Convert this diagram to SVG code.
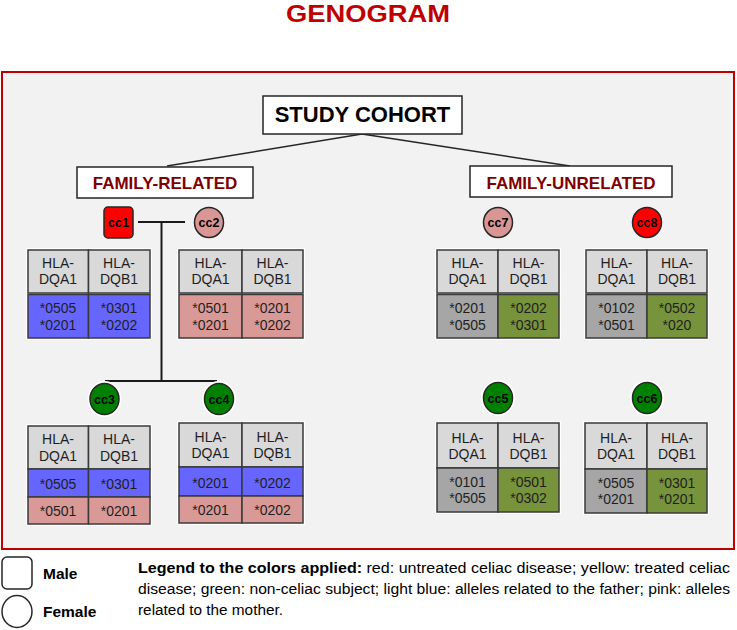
<svg xmlns="http://www.w3.org/2000/svg" width="737" height="630" viewBox="0 0 737 630">
<style>
.frame{fill:#f2f2f2;stroke:#c00000;stroke-width:2}
.box{fill:#ffffff;stroke:#262626;stroke-width:1.5}
.halo{fill:#ffffff}
.cell{stroke:#3a3a3a;stroke-width:1.5}
.hdr{fill:#d9d9d9}
.blue{fill:#6666ff}
.pink{fill:#d99a97}
.grey{fill:#a6a6a6}
.green{fill:#77933c}
.line{stroke:#1a1a1a;stroke-width:2;fill:none}
.thin{stroke:#262626;stroke-width:1.5;fill:none}
.t{font-family:"Liberation Sans",Arial,sans-serif;font-size:14px;fill:#1f1f1f;text-anchor:middle}
.cc{font-family:"Liberation Sans",Arial,sans-serif;font-size:12.5px;font-weight:bold;fill:#000;text-anchor:middle}
.sym{stroke:#262626;stroke-width:1.5}
.red{fill:#ff0000}
.pinkc{fill:#d99694}
.greenc{fill:#008000}
.head{font-family:"Liberation Sans",Arial,sans-serif;font-weight:bold;text-anchor:middle}
.leg{font-family:"Liberation Sans",Arial,sans-serif;font-size:15.5px;fill:#000}
</style>

<text class="head" x="368" y="22" font-size="24" fill="#c00000" textLength="164" lengthAdjust="spacingAndGlyphs">GENOGRAM</text>

<rect class="frame" x="2" y="72" width="732" height="477"/>

<g id="connectors">
  <line class="thin" x1="362" y1="134" x2="167" y2="166"/>
  <line class="thin" x1="362" y1="134" x2="570" y2="166"/>
  <line class="line" x1="138" y1="222" x2="185" y2="222"/>
  <line class="line" x1="161.5" y1="222" x2="161.5" y2="381"/>
  <line class="line" x1="105" y1="381" x2="217" y2="381"/>
</g>

<g id="study-cohort">
  <rect class="box" x="263" y="96" width="199" height="38"/>
  <text class="head" x="362.5" y="122" font-size="22" fill="#000">STUDY COHORT</text>
</g>
<g id="family-related">
  <rect class="box" x="77" y="167" width="176" height="31"/>
  <text class="head" x="165" y="189" font-size="17" fill="#7f0000">FAMILY-RELATED</text>
</g>
<g id="family-unrelated">
  <rect class="box" x="470" y="166" width="202" height="31"/>
  <text class="head" x="571" y="189" font-size="17" fill="#7f0000">FAMILY-UNRELATED</text>
</g>

<g id="cc1">
  <rect class="sym red" x="104" y="207" width="29" height="31" rx="4"/>
  <text class="cc" x="118.5" y="227">cc1</text>
  <rect class="halo" x="26" y="248" width="126" height="92"/>
  <rect class="cell hdr" x="28" y="250" width="60.5" height="43"/>
  <rect class="cell hdr" x="88.5" y="250" width="61.5" height="43"/>
  <rect class="cell blue" x="28" y="294.5" width="60.5" height="43.5"/>
  <rect class="cell blue" x="88.5" y="294.5" width="61.5" height="43.5"/>
  <text class="t" x="58" y="268">HLA-</text><text class="t" x="58" y="284">DQA1</text>
  <text class="t" x="119" y="268">HLA-</text><text class="t" x="119" y="284">DQB1</text>
  <text class="t" x="58" y="313">*0505</text><text class="t" x="58" y="330">*0201</text>
  <text class="t" x="119" y="313">*0301</text><text class="t" x="119" y="330">*0202</text>
</g>

<g id="cc2">
  <ellipse class="sym pinkc" cx="209" cy="222.5" rx="14.5" ry="15"/>
  <text class="cc" x="209" y="227">cc2</text>
  <rect class="halo" x="177" y="248" width="128" height="92"/>
  <rect class="cell hdr" x="179" y="250" width="63" height="43"/>
  <rect class="cell hdr" x="242" y="250" width="61" height="43"/>
  <rect class="cell pink" x="179" y="294.5" width="63" height="43.5"/>
  <rect class="cell pink" x="242" y="294.5" width="61" height="43.5"/>
  <text class="t" x="210.5" y="268">HLA-</text><text class="t" x="210.5" y="284">DQA1</text>
  <text class="t" x="272.5" y="268">HLA-</text><text class="t" x="272.5" y="284">DQB1</text>
  <text class="t" x="210.5" y="313">*0501</text><text class="t" x="210.5" y="330">*0201</text>
  <text class="t" x="272.5" y="313">*0201</text><text class="t" x="272.5" y="330">*0202</text>
</g>

<g id="cc7">
  <ellipse class="sym pinkc" cx="498" cy="222.5" rx="14.5" ry="15"/>
  <text class="cc" x="498" y="227">cc7</text>
  <rect class="halo" x="435" y="248" width="126" height="92"/>
  <rect class="cell hdr" x="437" y="250" width="61" height="43"/>
  <rect class="cell hdr" x="498" y="250" width="61" height="43"/>
  <rect class="cell grey" x="437" y="294.5" width="61" height="43.5"/>
  <rect class="cell green" x="498" y="294.5" width="61" height="43.5"/>
  <text class="t" x="467.5" y="268">HLA-</text><text class="t" x="467.5" y="284">DQA1</text>
  <text class="t" x="528.5" y="268">HLA-</text><text class="t" x="528.5" y="284">DQB1</text>
  <text class="t" x="467.5" y="313">*0201</text><text class="t" x="467.5" y="330">*0505</text>
  <text class="t" x="528.5" y="313">*0202</text><text class="t" x="528.5" y="330">*0301</text>
</g>

<g id="cc8">
  <ellipse class="sym red" cx="647" cy="222.5" rx="14.5" ry="15"/>
  <text class="cc" x="647" y="227">cc8</text>
  <rect class="halo" x="584" y="248" width="125" height="92"/>
  <rect class="cell hdr" x="586" y="250" width="61" height="43"/>
  <rect class="cell hdr" x="647" y="250" width="60" height="43"/>
  <rect class="cell grey" x="586" y="294.5" width="61" height="43.5"/>
  <rect class="cell green" x="647" y="294.5" width="60" height="43.5"/>
  <text class="t" x="616.5" y="268">HLA-</text><text class="t" x="616.5" y="284">DQA1</text>
  <text class="t" x="677" y="268">HLA-</text><text class="t" x="677" y="284">DQB1</text>
  <text class="t" x="616.5" y="313">*0102</text><text class="t" x="616.5" y="330">*0501</text>
  <text class="t" x="677" y="313">*0502</text><text class="t" x="677" y="330">*020</text>
</g>

<g id="cc3">
  <ellipse class="halo" cx="104.5" cy="399" rx="17" ry="18"/>
  <ellipse class="sym greenc" cx="104.5" cy="399" rx="14.5" ry="15.5"/>
  <text class="cc" x="104.5" y="403.5">cc3</text>
  <rect class="halo" x="26" y="424" width="126" height="102"/>
  <rect class="cell hdr" x="28" y="426" width="60.5" height="43"/>
  <rect class="cell hdr" x="88.5" y="426" width="61.5" height="43"/>
  <rect class="cell blue" x="28" y="469" width="60.5" height="28"/>
  <rect class="cell blue" x="88.5" y="469" width="61.5" height="28"/>
  <rect class="cell pink" x="28" y="497" width="60.5" height="27"/>
  <rect class="cell pink" x="88.5" y="497" width="61.5" height="27"/>
  <text class="t" x="58" y="444">HLA-</text><text class="t" x="58" y="461">DQA1</text>
  <text class="t" x="119" y="444">HLA-</text><text class="t" x="119" y="461">DQB1</text>
  <text class="t" x="58" y="489">*0505</text><text class="t" x="119" y="489">*0301</text>
  <text class="t" x="58" y="516">*0501</text><text class="t" x="119" y="516">*0201</text>
</g>

<g id="cc4">
  <ellipse class="halo" cx="219" cy="399" rx="17" ry="18"/>
  <ellipse class="sym greenc" cx="219" cy="399" rx="14.5" ry="15.5"/>
  <text class="cc" x="219" y="403.5">cc4</text>
  <rect class="halo" x="177" y="421" width="128" height="104"/>
  <rect class="cell hdr" x="179" y="423" width="63" height="44"/>
  <rect class="cell hdr" x="242" y="423" width="61" height="44"/>
  <rect class="cell blue" x="179" y="467" width="63" height="29"/>
  <rect class="cell blue" x="242" y="467" width="61" height="29"/>
  <rect class="cell pink" x="179" y="496" width="63" height="27"/>
  <rect class="cell pink" x="242" y="496" width="61" height="27"/>
  <text class="t" x="210.5" y="442">HLA-</text><text class="t" x="210.5" y="458">DQA1</text>
  <text class="t" x="272.5" y="442">HLA-</text><text class="t" x="272.5" y="458">DQB1</text>
  <text class="t" x="210.5" y="488">*0201</text><text class="t" x="272.5" y="488">*0202</text>
  <text class="t" x="210.5" y="515">*0201</text><text class="t" x="272.5" y="515">*0202</text>
</g>

<g id="cc5">
  <ellipse class="halo" cx="498" cy="398" rx="17" ry="18"/>
  <ellipse class="sym greenc" cx="498" cy="398" rx="14.5" ry="15.5"/>
  <text class="cc" x="498" y="402.5">cc5</text>
  <rect class="halo" x="435" y="421" width="126" height="93"/>
  <rect class="cell hdr" x="437" y="423" width="61" height="45"/>
  <rect class="cell hdr" x="498" y="423" width="61" height="45"/>
  <rect class="cell grey" x="437" y="468" width="61" height="44"/>
  <rect class="cell green" x="498" y="468" width="61" height="44"/>
  <text class="t" x="467.5" y="443">HLA-</text><text class="t" x="467.5" y="459">DQA1</text>
  <text class="t" x="528.5" y="443">HLA-</text><text class="t" x="528.5" y="459">DQB1</text>
  <text class="t" x="467.5" y="487">*0101</text><text class="t" x="467.5" y="503">*0505</text>
  <text class="t" x="528.5" y="487">*0501</text><text class="t" x="528.5" y="503">*0302</text>
</g>

<g id="cc6">
  <ellipse class="halo" cx="647" cy="398" rx="17" ry="18"/>
  <ellipse class="sym greenc" cx="647" cy="398" rx="14.5" ry="15.5"/>
  <text class="cc" x="647" y="402.5">cc6</text>
  <rect class="halo" x="583" y="421" width="126" height="94"/>
  <rect class="cell hdr" x="585" y="423" width="62" height="46"/>
  <rect class="cell hdr" x="647" y="423" width="60" height="46"/>
  <rect class="cell grey" x="585" y="469" width="62" height="44"/>
  <rect class="cell green" x="647" y="469" width="60" height="44"/>
  <text class="t" x="616" y="443">HLA-</text><text class="t" x="616" y="459">DQA1</text>
  <text class="t" x="677" y="443">HLA-</text><text class="t" x="677" y="459">DQB1</text>
  <text class="t" x="616" y="488">*0505</text><text class="t" x="616" y="504">*0201</text>
  <text class="t" x="677" y="488">*0301</text><text class="t" x="677" y="504">*0201</text>
</g>

<g id="legend">
  <rect class="sym" fill="#ffffff" x="2" y="557" width="30" height="32" rx="5"/>
  <ellipse class="sym" fill="#ffffff" cx="17" cy="611.5" rx="15" ry="16"/>
  <text class="leg" x="43" y="579" font-weight="bold">Male</text>
  <text class="leg" x="43" y="617" font-weight="bold">Female</text>
  <text class="leg" x="138" y="573" textLength="592" lengthAdjust="spacingAndGlyphs"><tspan font-weight="bold">Legend to the colors applied:</tspan> red: untreated celiac disease; yellow: treated celiac</text>
  <text class="leg" x="138" y="594" textLength="592" lengthAdjust="spacingAndGlyphs">disease; green: non-celiac subject; light blue: alleles related to the father; pink: alleles</text>
  <text class="leg" x="138" y="615" textLength="145" lengthAdjust="spacingAndGlyphs">related to the mother.</text>
</g>
</svg>
